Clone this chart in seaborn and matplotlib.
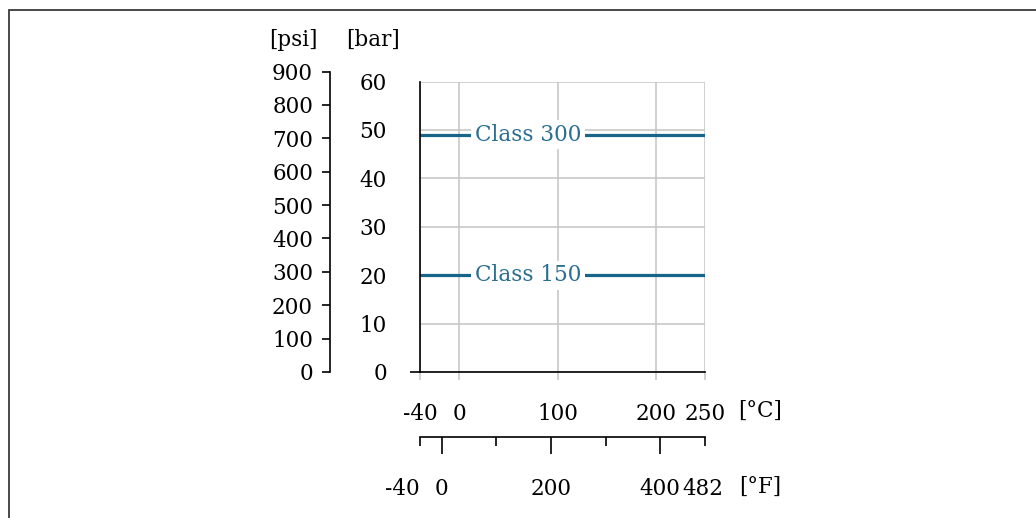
import matplotlib.pyplot as plt
import matplotlib.ticker as mticker
import matplotlib.transforms as mtransforms
from matplotlib.patches import Rectangle
import pandas as pd
import seaborn as sns

# data
temperature_c = [-40, 250]
class150_bar = [20, 20]
class300_bar = [49, 49]
class_names = ["Class 150", "Class 300"]
label_temp_c = 70

bar_ticks = [0, 10, 20, 30, 40, 50, 60]
psi_ticks = [0, 100, 200, 300, 400, 500, 600, 700, 800, 900]
c_ticks = [-40, 0, 100, 200, 250]
f_major = [0, 200, 400]
f_minor = [-40, 100, 300, 482]
f_minor_labels = ["-40", "", "", "482"]

BAR_TO_PSI = 14.5038
LINE_BLUE = "#17658a"
TEXT_BLUE = "#2a6e90"
GRID = "#c4c4c4"

sns.set_style("white")
plt.rcParams["font.family"] = ["DejaVu Serif"]
plt.rcParams["font.size"] = 15.5
plt.rcParams["text.color"] = "black"
plt.rcParams["xtick.color"] = "black"
plt.rcParams["ytick.color"] = "black"
plt.rcParams["xtick.labelcolor"] = "black"
plt.rcParams["ytick.labelcolor"] = "black"

W, H = 1036, 518
fig = plt.figure(figsize=(W / 100, H / 100), dpi=100)


def fx(px):
    return px / W


def fy(py):
    return 1 - py / H


# frame
fig.add_artist(Rectangle((fx(9), -0.1), 1.2, fy(10) + 0.1, transform=fig.transFigure,
                         fill=False, edgecolor="#3a3a3a", linewidth=1.3))

# main axes (bar vs degC)
x0, x1, y0, y1 = 420, 705, 372, 81.5
ax = fig.add_axes([fx(x0), fy(y0), fx(x1 - x0), (y0 - y1) / H])

df = pd.DataFrame({
    "temp": temperature_c * 2,
    "bar": class150_bar + class300_bar,
    "cls": [class_names[0]] * 2 + [class_names[1]] * 2,
})
sns.lineplot(data=df, x="temp", y="bar", units="cls", estimator=None,
             color=LINE_BLUE, linewidth=2.3, ax=ax, legend=False)

for name, val in zip(class_names, [class150_bar[0], class300_bar[0]]):
    ax.text(label_temp_c, val, name, color=TEXT_BLUE, ha="center", va="center",
            bbox=dict(facecolor="white", edgecolor="none", pad=2.5), zorder=5)

ax.set_xlim(-40, 250)
ax.set_ylim(0, 60)
ax.set_xticks(c_ticks)
ax.set_xticklabels([str(t) for t in c_ticks])
ax.set_yticks(bar_ticks)
ax.set_xlabel("")
ax.set_ylabel("")
ax.grid(True, color=GRID, linewidth=1.1)
ax.set_axisbelow(True)
for s in ["top", "right"]:
    ax.spines[s].set_visible(False)
for s in ["left", "bottom"]:
    ax.spines[s].set_color("black")
    ax.spines[s].set_linewidth(1.2)
ax.tick_params(axis="x", bottom=True, length=5.8, width=1.1, color=GRID, pad=16.5)
ax.tick_params(axis="y", left=True, length=7.2, width=1.2, color="black", pad=16.6)
ax.xaxis.get_major_ticks()[0].tick1line.set_color("black")
for t in ax.yaxis.get_major_ticks()[1:]:
    t.tick1line.set_visible(False)

# psi axis
psi_top = psi_ticks[-1]
ph = (y0 - y1) * (psi_top / BAR_TO_PSI) / 60
axp = fig.add_axes([fx(330), fy(y0), 0.0001, ph / H])
axp.set_ylim(0, psi_top)
axp.set_yticks(psi_ticks)
axp.set_xticks([])
axp.patch.set_visible(False)
for s in ["top", "right", "bottom"]:
    axp.spines[s].set_visible(False)
axp.spines["left"].set_color("black")
axp.spines["left"].set_linewidth(1.2)
axp.tick_params(axis="y", left=True, length=5.8, width=1.2, color="black", pad=6.4)

# degF axis
axf = fig.add_axes([fx(x0), fy(437), fx(x1 - x0), 0.0001])
axf.set_xlim(-40, 482)
axf.set_yticks([])
axf.patch.set_visible(False)
for s in ["top", "right", "left"]:
    axf.spines[s].set_visible(False)
axf.spines["bottom"].set_color("black")
axf.spines["bottom"].set_linewidth(1.2)
axf.xaxis.set_major_locator(mticker.FixedLocator(f_major))
axf.xaxis.set_minor_locator(mticker.FixedLocator(f_minor))
axf.xaxis.set_minor_formatter(mticker.FixedFormatter(f_minor_labels))
axf.tick_params(axis="x", which="major", bottom=True, length=12.5, width=1.2, pad=17)
axf.tick_params(axis="x", which="minor", bottom=True, length=6.5, width=1.2, pad=23)

# the -40 label hangs left of its tick, 482 slightly left
fig.canvas.draw()
minor_labels = [t.label1 for t in axf.xaxis.get_minor_ticks()]
minor_labels[0].set_horizontalalignment("right")
minor_labels[-1].set_transform(minor_labels[-1].get_transform()
                               + mtransforms.ScaledTranslation(-0.02, 0, fig.dpi_scale_trans))

# unit labels
fig.text(fx(293), fy(40), "[psi]", ha="center", va="center")
fig.text(fx(373), fy(40), "[bar]", ha="center", va="center")
fig.text(fx(760), fy(411), "[°C]", ha="center", va="center")
fig.text(fx(760), fy(487), "[°F]", ha="center", va="center")

fig.savefig("out.png", dpi=100)
